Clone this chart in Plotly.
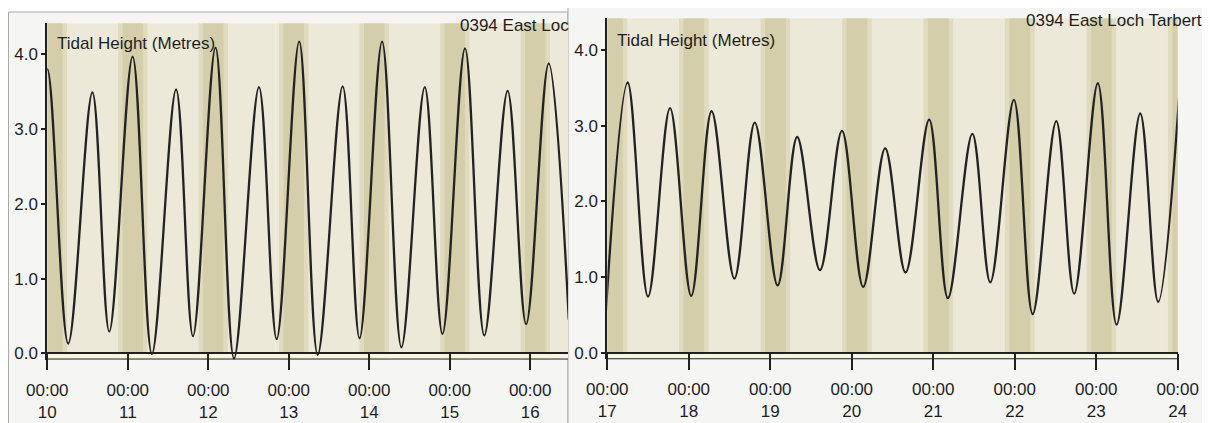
import plotly.graph_objects as go

W, H = 1210, 423
OFF = 8  # the page body margin shifts the figure by 8 px

# ---- data: tide extremes (day-of-month as decimal, height in metres) ----
left_times = [9.76, 10.00, 10.26, 10.56, 10.77, 11.06, 11.30, 11.60, 11.81, 12.09, 12.32, 12.63,
              12.85, 13.13, 13.36, 13.67, 13.88, 14.16, 14.40, 14.69, 14.91, 15.19, 15.43, 15.72,
              15.95, 16.23, 16.48]
left_heights = [0.20, 3.80, 0.13, 3.49, 0.29, 3.97, -0.01, 3.53, 0.23, 4.09, -0.07, 3.56,
                0.19, 4.17, -0.02, 3.57, 0.20, 4.17, 0.08, 3.56, 0.26, 4.08, 0.24, 3.51,
                0.39, 3.88, 0.45]

right_times = [16.98, 17.25, 17.50, 17.77, 18.03, 18.28, 18.56, 18.81, 19.09, 19.33, 19.61, 19.88,
               20.14, 20.41, 20.66, 20.95, 21.18, 21.48, 21.70, 21.99, 22.22, 22.51, 22.73, 23.02,
               23.25, 23.54, 23.76, 24.02]
right_heights = [0.50, 3.57, 0.74, 3.23, 0.75, 3.19, 0.98, 3.04, 0.89, 2.85, 1.09, 2.93,
                 0.87, 2.70, 1.06, 3.08, 0.72, 2.89, 0.93, 3.34, 0.51, 3.06, 0.78, 3.56,
                 0.37, 3.16, 0.67, 3.42]

left_days = [10, 11, 12, 13, 14, 15, 16]
right_days = [17, 18, 19, 20, 21, 22, 23, 24]
y_ticks = [0, 1, 2, 3, 4]
y_tick_labels = ["0.0", "1.0", "2.0", "3.0", "4.0"]

station = "0394 East Loch Tarbert"
station_cut = "0394 East Loc"
y_title = "Tidal Height (Metres)"

# ---- styles ----
FONT = "Liberation Sans, Arial, sans-serif"
TXT = "#1e1e1e"
BEIGE = "#ECE9D8"
FRINGE = "#E0DBBF"
CORE = "#D5CEAB"
STRIP = "#F8F5E2"
PANEL = "#F5F5F3"
BORDER = "#A9A9A9"
fringe_off = (-0.12, 0.245)
core_off = (-0.065, 0.19)


def px(x):
    return (x - OFF) / W


def py(y):
    return 1 - (y - OFF) / H


left_xr = [10, 16.47]
right_xr = [17, 24]
left_yr = [-0.083, 4.415]
right_yr = [-0.087, 4.418]

fig = go.Figure()
fig.add_trace(go.Scatter(x=left_times, y=left_heights, mode="lines",
                         line=dict(color="#222222", width=2.3, shape="spline", smoothing=1.0),
                         xaxis="x", yaxis="y", showlegend=False, hoverinfo="skip"))
fig.add_trace(go.Scatter(x=right_times, y=right_heights, mode="lines",
                         line=dict(color="#222222", width=2.3, shape="spline", smoothing=1.0),
                         xaxis="x2", yaxis="y2", showlegend=False, hoverinfo="skip"))

shapes = []
# panel backgrounds
shapes.append(dict(type="rect", xref="paper", yref="paper", x0=px(8.5), x1=px(568), y0=-0.05, y1=py(12),
                   fillcolor=PANEL, line=dict(color=BORDER, width=1), layer="below"))
shapes.append(dict(type="rect", xref="paper", yref="paper", x0=px(568), x1=px(1205), y0=-0.05, y1=py(7),
                   fillcolor=PANEL, line=dict(color=BORDER, width=1), layer="below"))


def panel_shapes(xa, ya, xr, yr, days):
    out = []
    out.append(dict(type="rect", xref=xa, yref=ya, x0=xr[0], x1=xr[1], y0=yr[0], y1=yr[1],
                    fillcolor=BEIGE, line=dict(width=0), layer="below"))
    mids = [days[0] - 1] + list(days)
    for d in mids:
        for off, col in ((fringe_off, FRINGE), (core_off, CORE)):
            a = max(d + off[0], xr[0])
            b = min(d + off[1], xr[1])
            if b > a:
                out.append(dict(type="rect", xref=xa, yref=ya, x0=a, x1=b, y0=yr[0], y1=yr[1],
                                fillcolor=col, line=dict(width=0), layer="below"))
    out.append(dict(type="rect", xref=xa, yref=ya, x0=xr[0], x1=xr[1], y0=yr[0], y1=0,
                    fillcolor=STRIP, line=dict(width=0), layer="below"))
    out.append(dict(type="line", xref=xa, yref=ya, x0=xr[0], x1=xr[1], y0=yr[0], y1=yr[0],
                    line=dict(color="#202020", width=2), layer="above"))
    return out


shapes += panel_shapes("x", "y", left_xr, left_yr, left_days)
shapes += panel_shapes("x2", "y2", right_xr, right_yr, right_days)

tickfont = dict(family=FONT, size=17, color=TXT)


def xaxis(domain, xr, days, pos):
    return dict(domain=domain, range=xr, anchor="free", position=pos, automargin=False,
                tickmode="array", tickvals=days,
                ticktext=[f"00:00<br>{d}" for d in days],
                ticks="outside", ticklen=16, tickwidth=2, tickcolor="#202020",
                ticklabelstandoff=5,
                showline=True, linecolor="#202020", linewidth=2,
                showgrid=False, zeroline=False, tickfont=tickfont, fixedrange=True)


def yaxis(domain, yr, anchor):
    return dict(domain=domain, range=yr, anchor=anchor, automargin=False,
                tickmode="array", tickvals=y_ticks, ticktext=y_tick_labels,
                ticks="outside", ticklen=4, tickwidth=2, tickcolor="#202020",
                showline=True, linecolor="#202020", linewidth=2,
                showgrid=False, zeroline=False, tickfont=tickfont, fixedrange=True)


annotations = [
    dict(text=y_title, xref="paper", yref="paper", x=px(55), y=py(43.5), xanchor="left", yanchor="middle",
         showarrow=False, font=dict(family=FONT, size=17, color=TXT)),
    dict(text=y_title, xref="paper", yref="paper", x=px(615), y=py(40), xanchor="left", yanchor="middle",
         showarrow=False, font=dict(family=FONT, size=17, color=TXT)),
    dict(text=station_cut, xref="paper", yref="paper", x=px(458), y=py(25.5), xanchor="left", yanchor="middle",
         showarrow=False, font=dict(family=FONT, size=17, color=TXT)),
    dict(text=station, xref="paper", yref="paper", x=px(1204), y=py(20.5), xanchor="right", yanchor="middle",
         showarrow=False, font=dict(family=FONT, size=17, color=TXT)),
]

fig.update_layout(
    width=W, height=H, margin=dict(l=0, r=0, t=0, b=0, pad=0, autoexpand=False),
    paper_bgcolor="white", plot_bgcolor="rgba(0,0,0,0)",
    xaxis=xaxis([px(47.3), px(568)], left_xr, left_days, py(353.3)),
    yaxis=yaxis([py(359.5), py(23.3)], left_yr, "x"),
    xaxis2=xaxis([px(607.3), px(1177.7)], right_xr, right_days, py(352.7)),
    yaxis2=yaxis([py(359.3), py(18.3)], right_yr, "x2"),
    shapes=shapes, annotations=annotations, showlegend=False,
)

fig.write_html("out.html")
